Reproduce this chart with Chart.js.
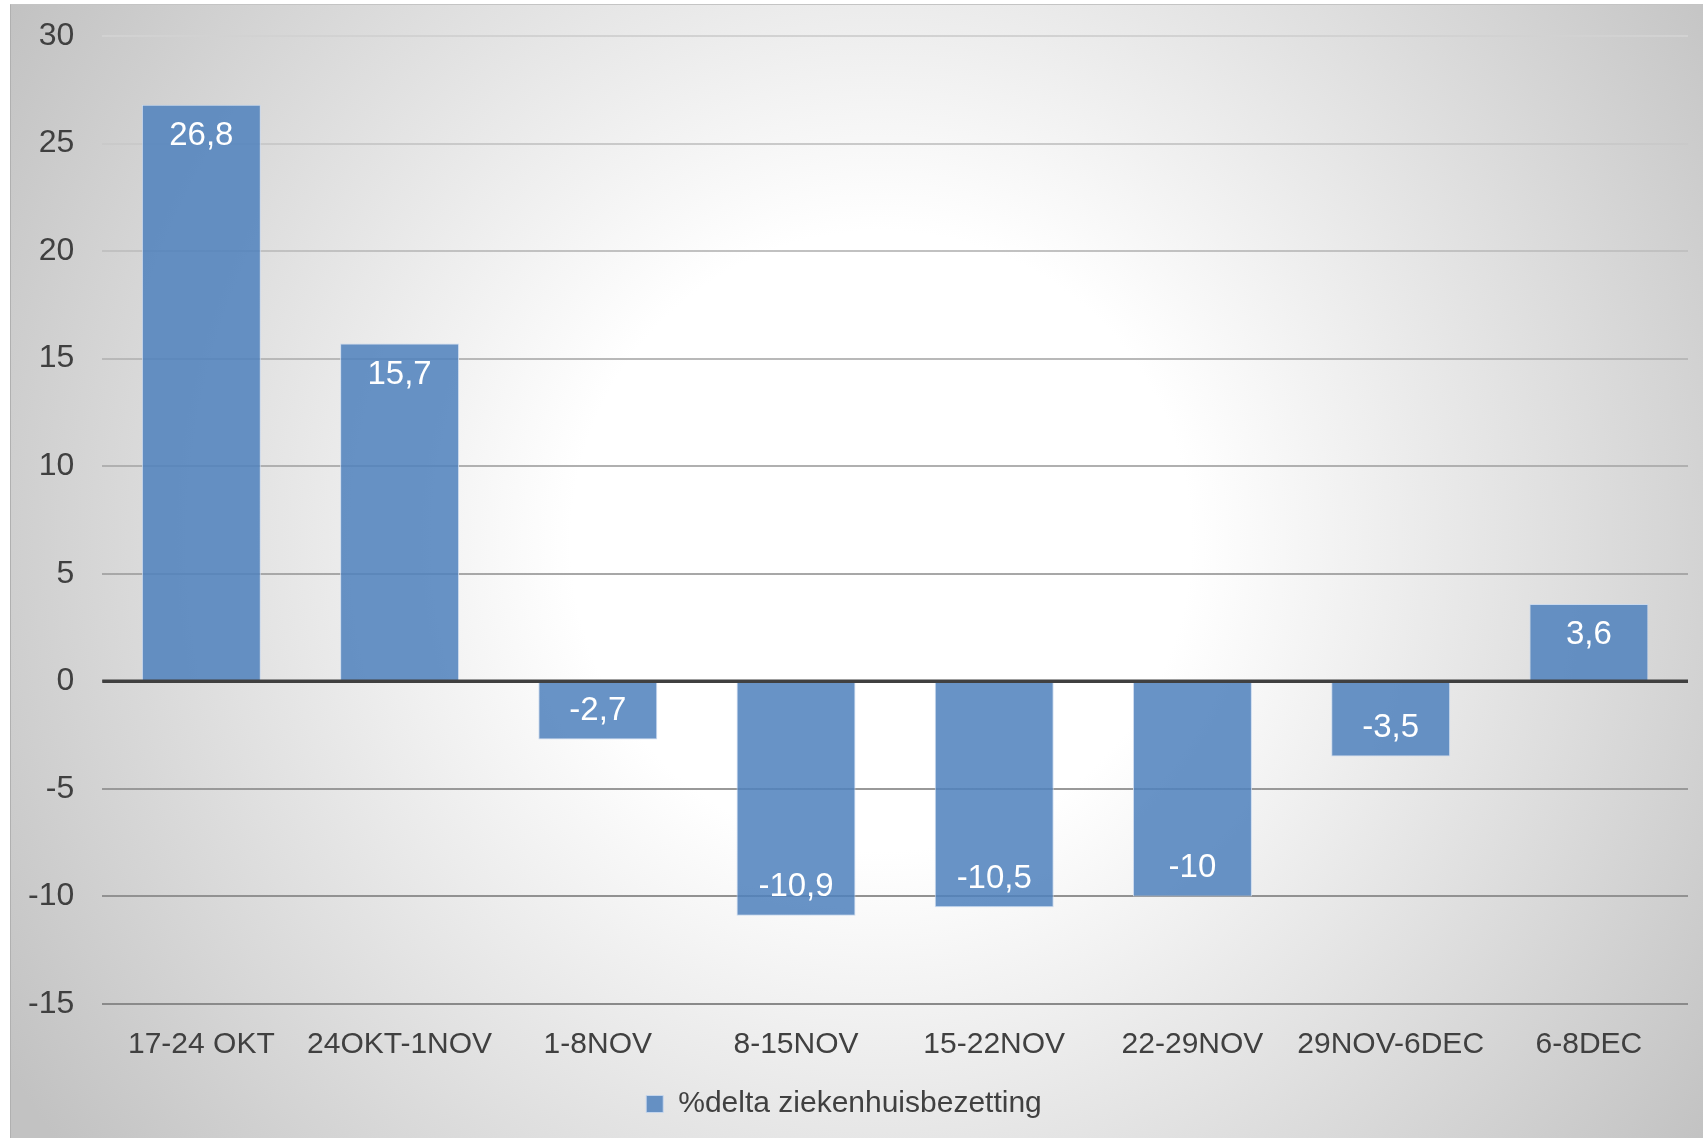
<!DOCTYPE html>
<html>
<head>
<meta charset="utf-8">
<script src="https://cdn.jsdelivr.net/npm/chart.js@4/dist/chart.umd.min.js"></script>
<style>
  html, body { margin: 0; padding: 0; background: #fff; }
  body { width: 1703px; height: 1138px; position: relative; overflow: hidden; }
  #bg {
    position: absolute; left: 10px; top: 4px; right: 0; bottom: 0;
    border-left: 1px solid #b0b0b0; border-top: 1px solid #c4c4c4;
    background: radial-gradient(circle at 870px 536px, #ffffff 0px, #ffffff 310px, #c2c2c2 1020px);
  }
  #chart { position: absolute; left: 0; top: 0; }
</style>
</head>
<body>
<div id="bg"></div>
<canvas id="chart" width="1703" height="1138"></canvas>
<script>
// ── Data ────────────────────────────────────────────────────────────
const PERIODS = ['17-24 OKT', '24OKT-1NOV', '1-8NOV', '8-15NOV', '15-22NOV', '22-29NOV', '29NOV-6DEC', '6-8DEC'];
const DELTA = [26.8, 15.7, -2.7, -10.9, -10.5, -10, -3.5, 3.6];
const SERIES_NAME = '%delta ziekenhuisbezetting';
const Y_MIN = -15, Y_MAX = 30, Y_STEP = 5;

// ── Style ───────────────────────────────────────────────────────────
const TEXT = '#404040';
const BAR_FILL = 'rgba(79,129,189,0.86)';
const BAR_EDGE = 'rgba(200,216,238,0.9)';
const FONT = "'Liberation Sans', Arial, sans-serif";

// value labels inside the bar end, decimal comma
const valueLabels = {
  id: 'valueLabels',
  afterDatasetsDraw(chart) {
    const { ctx } = chart;
    const meta = chart.getDatasetMeta(0);
    ctx.save();
    ctx.font = `33px ${FONT}`;
    ctx.fillStyle = '#ffffff';
    ctx.textAlign = 'center';
    ctx.textBaseline = 'middle';
    meta.data.forEach((bar, i) => {
      const v = chart.data.datasets[0].data[i];
      const y = v >= 0 ? bar.y + 31.5 : bar.y - 28.5;
      ctx.fillText(String(v).replace('.', ','), bar.x, y);
    });
    ctx.restore();
  },
};

// dark zero line drawn on top of the bars
const zeroLine = {
  id: 'zeroLine',
  afterDatasetsDraw(chart) {
    const { ctx, chartArea, scales } = chart;
    const y0 = scales.y.getPixelForValue(0);
    ctx.save();
    ctx.strokeStyle = '#404040';
    ctx.lineWidth = 3.5;
    ctx.beginPath();
    ctx.moveTo(chartArea.left, y0);
    ctx.lineTo(chartArea.right, y0);
    ctx.stroke();
    ctx.restore();
  },
};

function gridColor(context) {
  const { chart } = context;
  const area = chart.chartArea;
  if (!area) return '#b0b0b0';
  const g = chart.ctx.createLinearGradient(0, area.top, 0, area.bottom);
  g.addColorStop(0, '#d2d2d2');
  g.addColorStop(0.55, '#a8a8a8');
  g.addColorStop(1, '#8a8a8a');
  return g;
}

new Chart(document.getElementById('chart').getContext('2d'), {
  type: 'bar',
  data: {
    labels: PERIODS,
    datasets: [{
      label: SERIES_NAME,
      data: DELTA,
      backgroundColor: BAR_FILL,
      borderColor: BAR_EDGE,
      borderWidth: 1,
      categoryPercentage: 1,
      barPercentage: 0.6,
    }],
  },
  options: {
    responsive: false,
    animation: false,
    layout: { padding: { left: 0, right: 15, top: 36, bottom: 9 } },
    plugins: {
      tooltip: { enabled: false },
      legend: {
        position: 'bottom',
        labels: {
          color: TEXT,
          font: { family: FONT, size: 30 },
          boxWidth: 17,
          boxHeight: 17,
          padding: 3,
        },
      },
    },
    scales: {
      x: {
        grid: { display: false, drawTicks: false },
        border: { display: false },
        ticks: { color: TEXT, font: { family: FONT, size: 30 }, padding: 23, maxRotation: 0, autoSkip: false },
      },
      y: {
        min: Y_MIN,
        max: Y_MAX,
        grid: { color: gridColor, lineWidth: 2, drawTicks: false },
        border: { display: false },
        ticks: { stepSize: Y_STEP, color: TEXT, font: { family: FONT, size: 32 }, padding: 28 },
        // the tick padding should only push labels sideways, not shrink the plot vertically
        afterFit(scale) { scale.paddingTop = 0; scale.paddingBottom = 0; },
      },
    },
  },
  plugins: [valueLabels, zeroLine],
});
</script>
</body>
</html>
